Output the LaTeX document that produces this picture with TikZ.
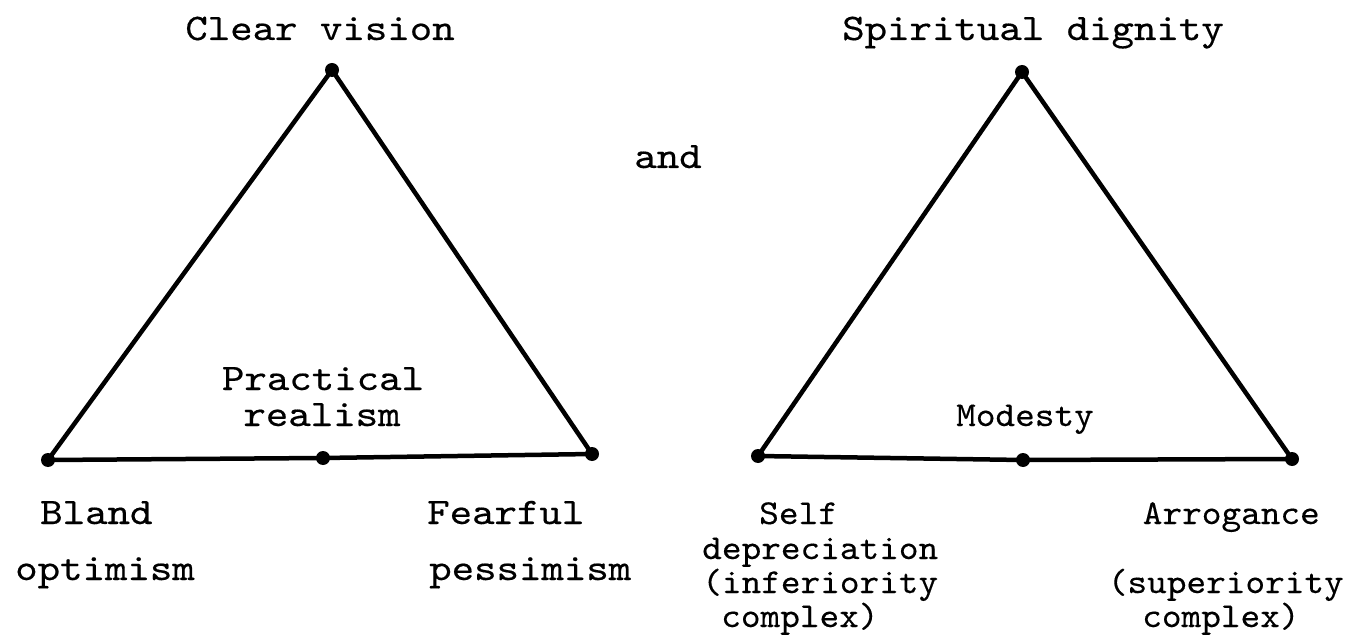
\documentclass[tikz,border=0pt]{standalone}
\usepackage{fontspec}
\newfontfamily\typer[FakeStretch=1.14,FakeBold=0.4]{lmmono10-regular.otf}
\newfontfamily\typen[FakeStretch=1.07,FakeBold=0.3]{lmmono10-regular.otf}
\tikzset{
  dot/.style={circle,fill=black,inner sep=0pt,minimum size=14pt},
  lbl/.style={font=\typer\fontsize{37.5}{40}\selectfont,inner sep=0pt,anchor=base west},
  clbl/.style={lbl,anchor=base},
  slbl/.style={lbl,font=\typen\fontsize{35}{37}\selectfont}
}
\begin{document}
\begin{tikzpicture}[x=1pt,y=-1pt,line width=4.5pt]
 \useasboundingbox (0,0) rectangle (1352,636);
 % left triangle
 \node[dot] (cv) at (332,70) {};
 \node[dot] (bo) at (48,460) {};
 \node[dot] (pr) at (323,458) {};
 \node[dot] (fp) at (592,454) {};
 \draw[line join=round] (bo.center) -- (cv.center) -- (fp.center) -- (pr.center) -- (bo.center);
 \node[clbl] (cvt) at (320,40) {Clear vision};
 \node[clbl] (prt1) at (323,390) {Practical};
 \node[clbl] (prt2) at (322,426) {realism};
 \node[lbl] (bot1) at (38,524) {Bland};
 \node[lbl] (bot2) at (13,580) {optimism};
 \node[lbl] (fpt1) at (425,524) {Fearful};
 \node[lbl] (fpt2) at (427,580) {pessimism};
 % between
 \node[clbl] (andt) at (668,168) {and};
 % right triangle
 \node[dot] (sd) at (1022,72) {};
 \node[dot] (se) at (758,456) {};
 \node[dot] (mo) at (1023,460) {};
 \node[dot] (ar) at (1292,459) {};
 \draw[line join=round] (se.center) -- (sd.center) -- (ar.center) -- (mo.center) -- (se.center);
 \node[clbl] (sdt) at (1033,40) {Spiritual dignity};
 \node[slbl,anchor=base] (mot) at (1025,426) {Modesty};
 \node[slbl] (set1) at (757,524) {Self};
 \node[slbl] (set2) at (700,559) {depreciation};
 \node[slbl] (set3) at (700,593) {(inferiority};
 \node[slbl] (set4) at (719,627) {complex)};
 \node[slbl,anchor=base east] (art1) at (1322,524) {Arrogance};
 \node[slbl,anchor=base east] (art3) at (1346,593) {(superiority};
 \node[slbl] (art4) at (1140,627) {complex)};
\end{tikzpicture}
\end{document}
